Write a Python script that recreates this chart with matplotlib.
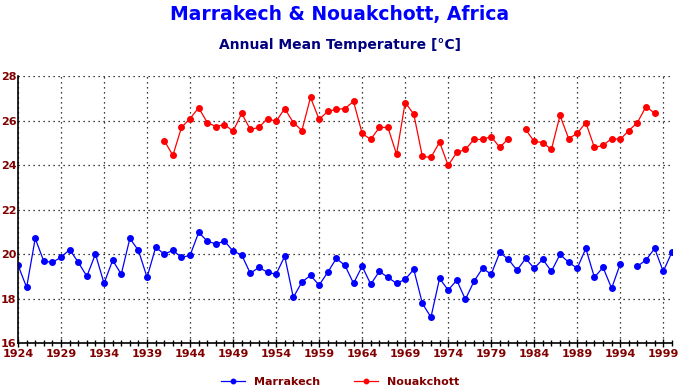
import numpy as np
import matplotlib
matplotlib.use("Agg")
import matplotlib.pyplot as plt
from matplotlib.ticker import MultipleLocator, FixedLocator

# Years 1924..2000
years = list(range(1924, 2001))
year_ticks = list(range(1924, 2001, 5))

# Marrakech annual mean temperature (NaN = missing)
marrakech = [
    19.5, 18.5, 20.7, 19.67, 19.63, 19.85, 20.2, 19.63, 19.0, 20.0,   # 1924-1933
    18.68, 19.72, 19.09, 20.7, 20.16, 18.95, 20.3, 20.0, 20.16, 19.85,  # 1934-1943
    19.94, 20.97, 20.58, 20.45, 20.58, 20.13, 19.96, 19.13, 19.4, 19.18,  # 1944-1953
    19.09, 19.9, 18.05, 18.74, 19.04, 18.6, 19.18, 19.8, 19.49, 18.68,  # 1954-1963
    19.45, 18.64, 19.22, 18.95, 18.68, 18.86, 19.31, 17.78, 17.16, 18.9,  # 1964-1973
    18.38, 18.82, 17.96, 18.77, 19.36, 19.09, 20.07, 19.76, 19.27, 19.8,  # 1974-1983
    19.36, 19.76, 19.22, 19.98, 19.63, 19.36, 20.25, 18.95, 19.4, 18.46,  # 1984-1993
    19.55, np.nan, 19.45, 19.73, 20.25, 19.22, 20.07,                     # 1994-2000
]

# Nouakchott annual mean temperature (starts 1941)
nouakchott = [np.nan] * 17 + [
    25.1, 24.43, 25.69, 26.09, 26.57, 25.91, 25.73, 25.82, 25.52, 26.32,  # 1941-1950
    25.6, 25.69, 26.09, 25.96, 26.54, 25.91, 25.55, 27.04, 26.05, 26.41,  # 1951-1960
    26.5, 26.54, 26.86, 25.42, 25.15, 25.69, 25.69, 24.48, 26.81, 26.29,  # 1961-1970
    24.39, 24.34, 25.03, 23.98, 24.57, 24.7, 25.15, 25.15, 25.28, 24.79,  # 1971-1980
    25.19, np.nan, 25.6, 25.06, 25.01, 24.7, 26.23, 25.19, 25.42, 25.91,  # 1981-1990
    24.79, 24.88, 25.19, 25.15, 25.55, 25.91, 26.63, 26.33, np.nan, np.nan,  # 1991-2000
]

label_color = "#800000"

fig = plt.figure(figsize=(6.8, 3.92), dpi=100)
ax = fig.add_axes([0.0265, 0.125, 0.9615, 0.681])

ax.plot(years, marrakech, color="#0000ff", lw=0.9, marker="o", ms=4,
        label="Marrakech")
ax.plot(years, nouakchott, color="#ff0000", lw=0.9, marker="o", ms=4,
        label="Nouakchott")

ax.set_xlim(1924, 2000)
ax.set_ylim(16, 28)
ax.xaxis.set_major_locator(FixedLocator(year_ticks))
ax.xaxis.set_minor_locator(MultipleLocator(1))
ax.yaxis.set_major_locator(MultipleLocator(2))

ax.grid(True, which="major", color="black", linestyle=(0, (1, 3)), lw=0.9)
for side in ["top", "right"]:
    ax.spines[side].set_visible(False)
for side in ["left", "bottom"]:
    ax.spines[side].set_linewidth(1.2)

ax.tick_params(axis="both", which="major", direction="inout", length=6,
               width=1, labelsize=8, labelcolor=label_color, pad=1)
ax.tick_params(axis="x", which="minor", direction="inout", length=5, width=1)
ax.tick_params(axis="y", which="major", length=0, pad=1)
for lab in ax.get_xticklabels() + ax.get_yticklabels():
    lab.set_fontweight("bold")

fig.text(0.5, 0.963, "Marrakech & Nouakchott, Africa", ha="center", va="center",
         color="#0000ff", fontsize=13.5, fontweight="bold")
fig.text(0.5, 0.885, "Annual Mean Temperature [\u00b0C]", ha="center", va="center",
         color="#000080", fontsize=10, fontweight="bold")

leg = fig.legend(loc="center", bbox_to_anchor=(0.5, 0.025), ncol=2, frameon=False,
                 fontsize=8, handlelength=2.2, columnspacing=3, markerscale=0.8)
for t in leg.get_texts():
    t.set_color(label_color)
    t.set_fontweight("bold")

fig.savefig("out.png", dpi=100)
